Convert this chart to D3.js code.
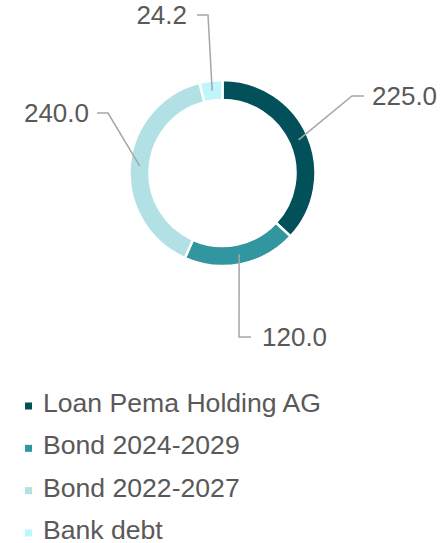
<!DOCTYPE html>
<html>
<head>
<meta charset="utf-8">
<script src="https://cdn.jsdelivr.net/npm/d3@7"></script>
<style>
  body { margin: 0; background: #fff; }
  svg text { font-family: "Liberation Sans", Arial, sans-serif; fill: #595959; }
</style>
</head>
<body>
<div class="debt-donut"></div>
<script>
// chart data
const categories = ["Loan Pema Holding AG", "Bond 2024-2029", "Bond 2022-2027", "Bank debt"];
const values = [225.0, 120.0, 240.0, 24.2];
const colors = ["#02505a", "#3196a0", "#b1e1e5", "#bff6fb"];

const width = 442, height = 543;
const cx = 222.5, cy = 173;
const outerR = 93, innerR = 73;

// leader line elbows / label anchors, in the order of the slices
const labelLayout = [
  { elbow: [352, 96], end: [364, 96], text: [372, 105], anchor: "start" },
  { elbow: [239, 337], end: [251, 337], text: [262, 346], anchor: "start" },
  { elbow: [108, 113], end: [97, 113], text: [89, 122], anchor: "end" },
  { elbow: [208, 15], end: [197, 15], text: [187, 24], anchor: "end" },
];

const svg = d3.select(".debt-donut").append("svg")
  .attr("width", width)
  .attr("height", height);

const pie = d3.pie().sort(null).value(d => d.value);
const arcs = pie(values.map((v, i) => ({ name: categories[i], value: v })));

const arc = d3.arc().innerRadius(innerR).outerRadius(outerR);
const midArc = d3.arc().innerRadius((innerR + outerR) / 2).outerRadius((innerR + outerR) / 2);

const g = svg.append("g").attr("transform", `translate(${cx},${cy})`);

g.selectAll(".slice")
  .data(arcs)
  .enter()
  .append("path")
  .attr("class", "slice")
  .attr("d", arc)
  .attr("fill", (d, i) => colors[i])
  .attr("stroke", "#fff")
  .attr("stroke-width", 2.5);

// leader lines
const lbl = svg.append("g");
arcs.forEach((d, i) => {
  const c = midArc.centroid(d);
  const L = labelLayout[i];
  lbl.append("polyline")
    .attr("points", [[cx + c[0], cy + c[1]], L.elbow, L.end].map(p => p.join(",")).join(" "))
    .attr("fill", "none")
    .attr("stroke", "#a6a6a6")
    .attr("stroke-width", 1.5);
  lbl.append("text")
    .attr("x", L.text[0])
    .attr("y", L.text[1])
    .attr("text-anchor", L.anchor)
    .attr("font-size", 26)
    .text(d3.format(".1f")(d.value));
});

// legend
const legend = svg.append("g").attr("transform", "translate(25,0)");
const rowY = d3.scalePoint().domain(categories).range([412, 539]);
categories.forEach((name, i) => {
  const y = rowY(name);
  legend.append("rect")
    .attr("x", 0)
    .attr("y", y - 9.5)
    .attr("width", 7)
    .attr("height", 7)
    .attr("fill", colors[i]);
  legend.append("text")
    .attr("x", 18)
    .attr("y", y)
    .attr("font-size", 26.6)
    .text(name);
});
</script>
</body>
</html>
